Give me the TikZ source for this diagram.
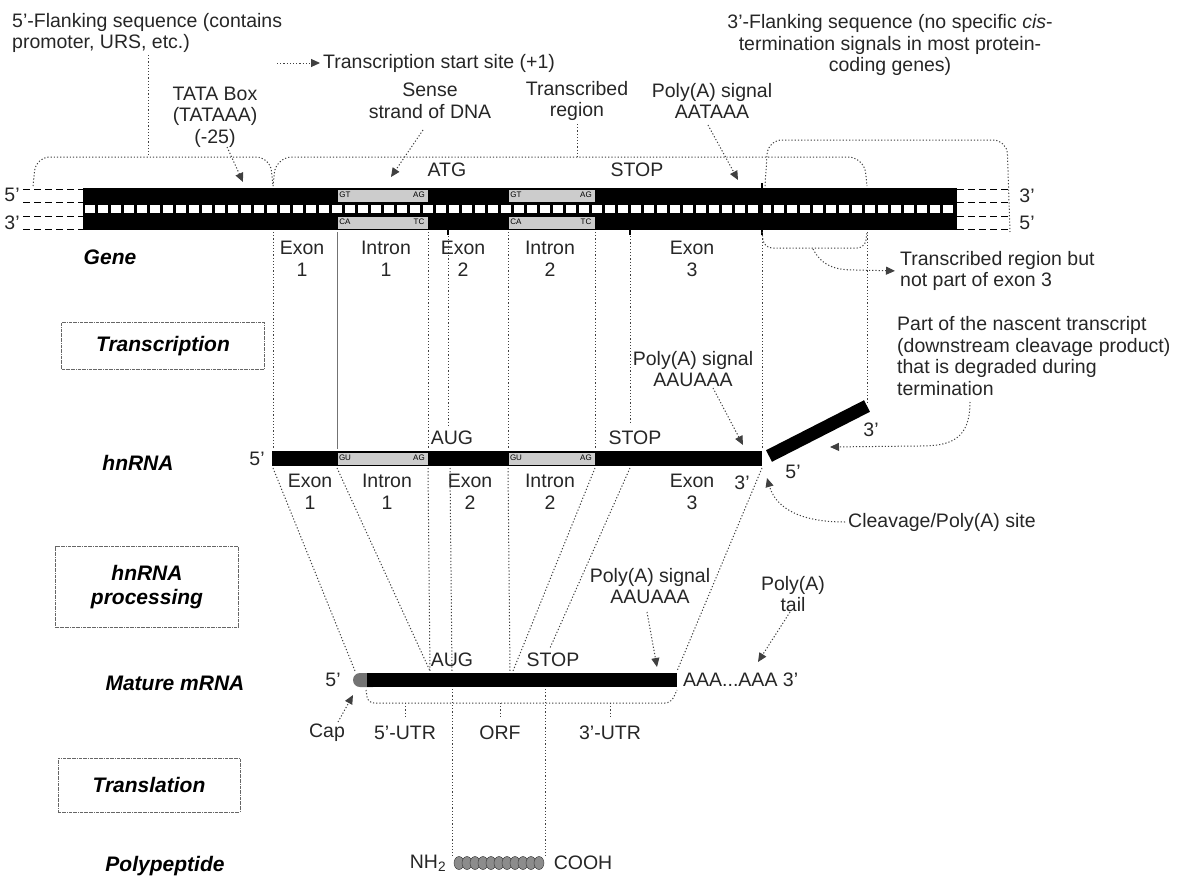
\documentclass[tikz,border=0pt]{standalone}
\usepackage{fontspec}
\setmainfont{Liberation Sans}
\usetikzlibrary{arrows.meta,positioning}

\begin{document}
\begin{tikzpicture}[x=1pt,y=-1pt,>={Triangle[length=9pt,width=8pt]},
  txt/.style={font=\fontsize{19.5}{21.5}\selectfont,inner sep=0pt,align=center,text=black!85},
  lbl/.style={font=\fontsize{21}{24}\selectfont\bfseries\itshape,inner sep=0pt,align=center},
  stage/.style={lbl,draw=black!60,densely dashdotted,line width=1pt},
  tiny/.style={font=\fontsize{8}{8}\selectfont,inner sep=0pt},
  guide/.style={dash pattern=on 1.2pt off 2pt,line width=1pt,black!75},
  arr/.style={guide,->},
  dashext/.style={dash pattern=on 7pt off 4pt,line width=1pt}]
\useasboundingbox (0,0) rectangle (1179,878);

\fill (83,188) rectangle (957,230);
\foreach \x in {85,98,...,950} \fill[white] (\x,205) rectangle ++(10,8);
\foreach \a/\b [count=\i] in {337/428,508/595}{
  \filldraw[fill=black!20,draw=black] (\a,189) rectangle (\b,202);
  \filldraw[fill=black!20,draw=black] (\a,216) rectangle (\b,229);
  \node[tiny] (gt\i) at (\a+8,195) {GT};
  \node[tiny] (ag\i) at (\b-9,195) {AG};
  \node[tiny] (ca\i) at (\a+8,222) {CA};
  \node[tiny] (tc\i) at (\b-9,222) {TC};
}
\foreach \y in {189,202,216,229}{
  \draw[dashext] (23,\y) -- (83,\y);
  \draw[dashext] (957,\y) -- (1010,\y);
}
\draw[line width=2pt] (762,183) -- (762,235);
\draw[line width=1.5pt] (448,228) -- (448,235);
\draw[line width=1.5pt] (630,228) -- (630,235);
\node[txt] (l5) at (12,195) {5'};
\node[txt] (l3) at (12,223) {3'};
\node[txt] (r3) at (1027,196) {3'};
\node[txt] (r5) at (1027,223) {5'};

\node[txt,anchor=west,align=left] (flank5) at (12,33) {5'-Flanking sequence (contains\\promoter, URS, etc.)};
\node[txt,anchor=west] (tss) at (323,63) {Transcription start site (+1)};
\node[txt] (tata) at (215,117) {TATA Box\\(TATAAA)\\(-25)};
\node[txt] (sense) at (430,101) {Sense\\strand of DNA};
\node[txt] (trreg) at (577,101) {Transcribed\\region};
\node[txt] (pas1) at (712,101) {Poly(A) signal\\AATAAA};
\node[txt] (flank3) at (890,45) {3'-Flanking sequence (no specific \textit{cis}-\\termination signals in most protein-\\coding genes)};
\node[txt] (atg) at (447,170) {ATG};
\node[txt] (stop1) at (637,170) {STOP};
\node[lbl] (gene) at (110,257) {Gene};
\foreach \x/\t/\n in {302/Exon/1,386/Intron/1,463/Exon/2,550/Intron/2,692/Exon/3}
  \node[txt] (g\t\n) at (\x,259) {\t\\\n};

\draw[guide] (148,55) -- (148,157);
\draw[guide] (577,124) -- (577,157);
\draw[guide,rounded corners=14pt] (33,186) -- (36,157) -- (270,157) -- (273,186);
\draw[guide,rounded corners=16pt] (273,186) -- (276,157) -- (864,157) -- (867,186);
\draw[guide,rounded corners=14pt] (765,186) -- (768,140) -- (1007,140) -- (1010,232);
\draw[guide,rounded corners=8pt] (762,232) -- (764,248) -- (865,248) -- (867,232);
\draw[guide] (867,232) -- (867,402);

\coordinate (tssA) at (277,63);
\draw[arr,shorten >=3pt] (tssA) -- (tss.west);
\coordinate (tataA) at (227,147);
\coordinate (tataB) at (243,182);
\draw[arr] (tataA) -- (tataB);
\coordinate (senseA) at (423,130);
\coordinate (senseB) at (391,177);
\draw[arr] (senseA) -- (senseB);
\coordinate (pas1A) at (708,125);
\coordinate (pas1B) at (738,180);
\draw[arr] (pas1A) -- (pas1B);
\node[txt,anchor=west,align=left] (tbr) at (900,271) {Transcribed region but\\not part of exon 3};
\coordinate (tbrA) at (813,249);
\draw[arr,shorten >=5pt] (tbrA) .. controls (822,266) and (835,270) .. (855,270) -- (tbr.west);

\foreach \x in {273,428,508,595,762} \draw[guide] (\x,232) -- (\x,449);
\draw[black!55,line width=0.6pt] (337,232) -- (337,449);
\draw[guide] (448,236) -- (448,426);
\draw[guide] (630,236) -- (630,424);

\node[stage,minimum width=203pt,minimum height=47pt] (trx) at (163,346) {Transcription};
\node[lbl] (hnlab) at (138,463) {hnRNA};
\node[txt] (hn5) at (257,459) {5'};
\fill (272,451) rectangle (762,466);
\foreach \a/\b [count=\i] in {337/428,508/595}{
  \filldraw[fill=black!20,draw=black] (\a,452) rectangle (\b,465);
  \node[tiny] (gu\i) at (\a+8,458) {GU};
  \node[tiny] (hag\i) at (\b-9,458) {AG};
}
\node[txt] (aug1) at (452,438) {AUG};
\node[txt] (stop2) at (635,438) {STOP};
\node[txt] (pas2) at (693,369) {Poly(A) signal\\AAUAAA};
\node[txt] (hn3) at (742,483) {3'};
\foreach \x/\t/\n in {310/Exon/1,387/Intron/1,470/Exon/2,550/Intron/2,692/Exon/3}
  \node[txt] (h\t\n) at (\x,492) {\t\\\n};
\coordinate (pas2A) at (713,388);
\coordinate (pas2B) at (743,445);
\draw[arr] (pas2A) -- (pas2B);

\coordinate (dp5) at (769,456);
\coordinate (dp3) at (867,406);
\draw[line width=13pt] (dp5) -- (dp3);
\node[txt] (dp3l) at (871,430) {3'};
\node[txt] (dp5l) at (793,472) {5'};
\node[txt,anchor=west,align=left] (nasc) at (897,356) {Part of the nascent transcript\\(downstream cleavage product)\\that is degraded during\\termination};
\coordinate (nascA) at (970,402);
\coordinate (nascB) at (830,447);
\draw[arr] (nascA) .. controls (970,440) and (950,446) .. (920,446) -- (nascB);
\node[txt,anchor=west] (cleav) at (848,522) {Cleavage/Poly(A) site};
\coordinate (cleavB) at (767,478);
\draw[arr] ([xshift=-3pt]cleav.west) .. controls (795,522) and (775,505) .. (cleavB);

\draw[guide] (273,468) -- (355,671);
\draw[guide] (337,468) -- (430,671);
\draw[guide] (428,468) -- (430,671);
\draw[guide] (450,468) -- (452,671);
\draw[guide] (508,468) -- (510,671);
\draw[guide] (595,468) -- (513,671);
\draw[guide] (630,468) -- (550,648);
\draw[guide] (762,468) -- (677,671);

\node[stage,minimum width=183pt,minimum height=81pt] (proc) at (147,587) {hnRNA\\processing};
\node[txt] (pas3) at (650,586) {Poly(A) signal\\AAUAAA};
\node[txt] (tail) at (793,594) {Poly(A)\\tail};
\node[lbl] (mlab) at (175,683) {Mature mRNA};
\node[txt] (m5) at (333,680) {5'};
\fill[black!55,rounded corners=7pt] (353,673) rectangle (380,687);
\fill (367,673) rectangle (677,687);
\node[txt] (aug2) at (452,660) {AUG};
\node[txt] (stop3) at (553,660) {STOP};
\node[txt,anchor=west] (polya) at (683,680) {AAA...AAA 3'};
\coordinate (pas3A) at (647,612);
\coordinate (pas3B) at (657,667);
\draw[arr] (pas3A) -- (pas3B);
\coordinate (tailA) at (790,612);
\coordinate (tailB) at (758,662);
\draw[arr] (tailA) -- (tailB);

\draw[guide,rounded corners=6pt] (366,690) -- (368,703) -- (671,703) -- (677,690);
\foreach \x in {405,500,610} \draw[guide] (\x,703) -- (\x,718);
\draw[guide] (452,689) -- (452,856);
\draw[guide] (545,689) -- (545,856);
\node[txt] (cap) at (327,733) {Cap};
\node[txt] (utr5) at (405,733) {5'-UTR};
\node[txt] (orf) at (500,733) {ORF};
\node[txt] (utr3) at (610,733) {3'-UTR};
\coordinate (capA) at (338,722);
\coordinate (capB) at (353,695);
\draw[arr] (capA) -- (capB);

\node[stage,minimum width=182pt,minimum height=54pt] (trl) at (149,785) {Translation};
\node[lbl] (pp) at (165,866) {Polypeptide};
\node[txt] (nh) at (428,863) {NH\textsubscript{2}};
\node[txt] (cooh) at (583,863) {COOH};
\foreach \x in {459,467,...,539} \filldraw[fill=black!45,draw=black!80] (\x,863) ellipse (5 and 6.5);
\end{tikzpicture}
\end{document}
